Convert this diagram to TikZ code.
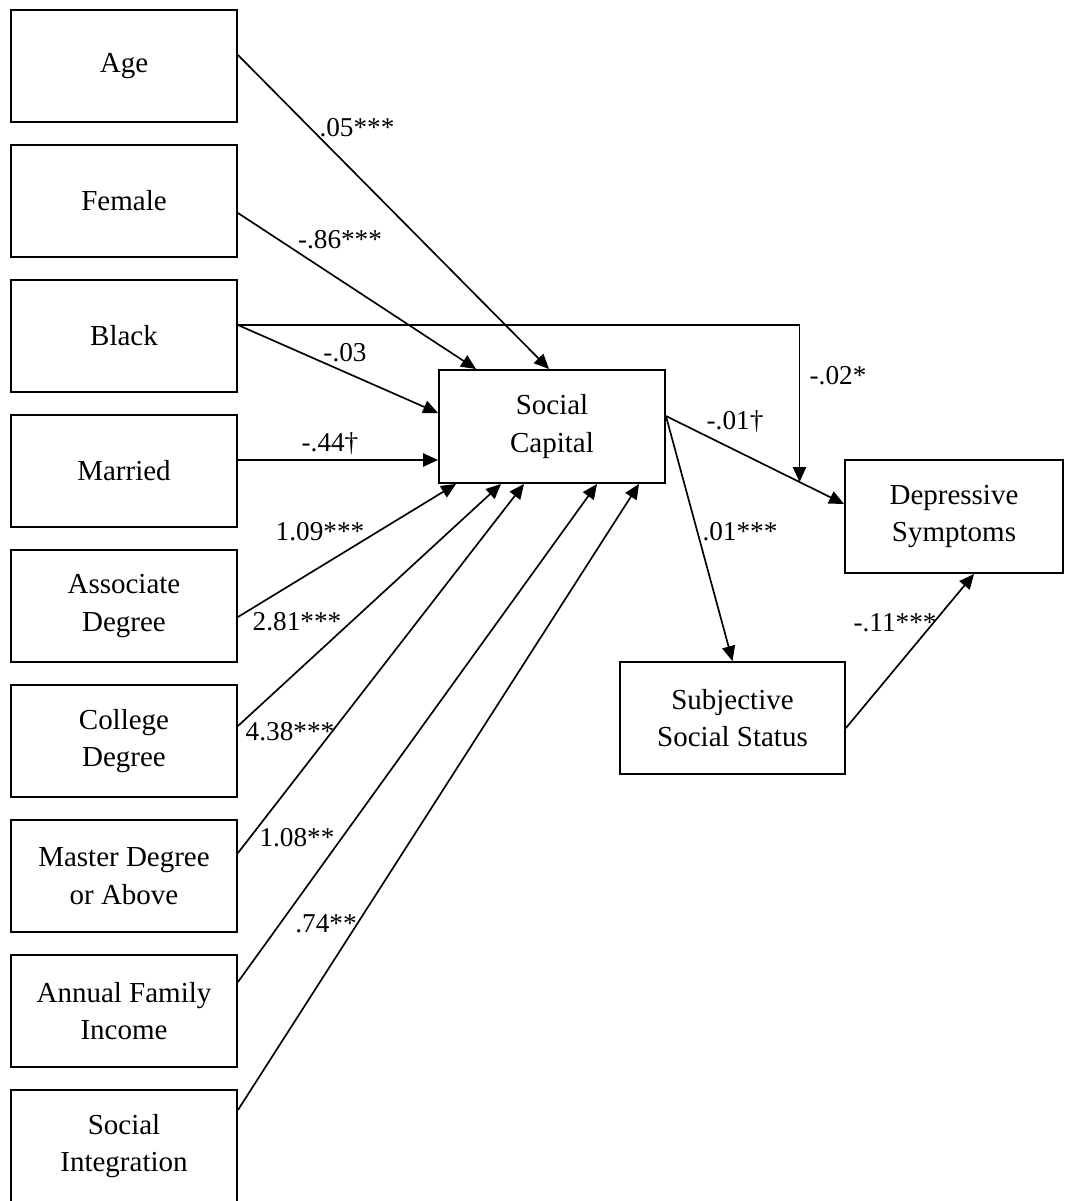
\documentclass[tikz,border=0pt]{standalone}
\usepackage{fontspec}
\setmainfont{Liberation Serif}
\usetikzlibrary{arrows.meta,positioning}

\begin{document}
\begin{tikzpicture}[x=0.02cm, y=-0.02cm, line width=0.95pt, >={Triangle[length=8.5pt,width=7.5pt]},
    var/.style={draw, line width=1.1pt, rectangle, minimum width=4.52cm, minimum height=2.24cm,
                align=center, inner sep=0pt, font=\fontsize{16.5}{21.5}\selectfont},
    lbl/.style={inner sep=0pt, font=\fontsize{15.5}{19}\selectfont}]
    \useasboundingbox (0,0) rectangle (1065,1201);

    % Predictors
    \node[var] (age) at (124,66) {Age};
    \node[var] (fem) at (124,201) {Female};
    \node[var] (black) at (124,336) {Black};
    \node[var] (mar) at (124,471) {Married};
    \node[var] (assoc) at (124,606) {Associate\\Degree};
    \node[var] (coll) at (124,741) {College\\Degree};
    \node[var] (mast) at (124,876) {Master Degree\\or Above};
    \node[var] (inc) at (124,1011) {Annual Family\\Income};
    \node[var] (integ) at (124,1146) {Social\\Integration};

    % Mediators and outcome
    \node[var, minimum height=2.26cm] (sc) at (552,426.5) {Social\\Capital};
    \node[var, minimum width=4.36cm, minimum height=2.26cm] (dep) at (954,516.5) {Depressive\\Symptoms};
    \node[var, minimum width=4.5cm] (sss) at (732.5,718) {Subjective\\Social Status};

    % Paths into social capital
    \draw[->] ([yshift=0.22cm]age.east) -- ([xshift=2.22cm]sc.north west);
    \draw[->] ([yshift=-0.24cm]fem.east) -- ([xshift=0.76cm]sc.north west);
    \draw[->] ([yshift=0.22cm]black.east) -- ([yshift=0.27cm]sc.west);
    \draw[->] ([yshift=0.22cm]mar.east) -- ([yshift=-0.67cm]sc.west);
    \draw[->] ([yshift=-0.22cm]assoc.east) -- ([xshift=0.36cm]sc.south west);
    \draw[->] ([yshift=0.3cm]coll.east) -- ([xshift=1.26cm]sc.south west);
    \draw[->] ([yshift=0.46cm]mast.east) -- ([xshift=1.72cm]sc.south west);
    \draw[->] ([yshift=0.58cm]inc.east) -- ([xshift=3.18cm]sc.south west);
    \draw[->] ([yshift=0.72cm]integ.east) -- ([xshift=4.02cm]sc.south west);

    % Paths out of social capital
    \draw[->] ([yshift=0.21cm]sc.east) -- coordinate[pos=0.75] (m) ([yshift=0.25cm]dep.west);
    \draw[->] ([yshift=0.21cm]sc.east) -- (sss.north);
    \draw[->] ([yshift=-0.2cm]sss.east) -- ([xshift=2.6cm]dep.south west);
    \draw[->] ([yshift=0.22cm]black.east) -| (m);

    % Coefficients
    \node[lbl] (lage) at (357,128) {.05***};
    \node[lbl] (lfem) at (340,240) {-.86***};
    \node[lbl] (lblack) at (345,353) {-.03};
    \node[lbl] (lmar) at (330,444) {-.44†};
    \node[lbl] (lassoc) at (320,532) {1.09***};
    \node[lbl] (lcoll) at (297,622) {2.81***};
    \node[lbl] (lmast) at (290,732) {4.38***};
    \node[lbl] (linc) at (297,838) {1.08**};
    \node[lbl] (linteg) at (326,924) {.74**};
    \node[lbl] (lbd) at (838,376) {-.02*};
    \node[lbl] (lsd) at (735,422) {-.01†};
    \node[lbl] (lss) at (740,532) {.01***};
    \node[lbl] (lsdep) at (895,623) {-.11***};
\end{tikzpicture}
\end{document}
